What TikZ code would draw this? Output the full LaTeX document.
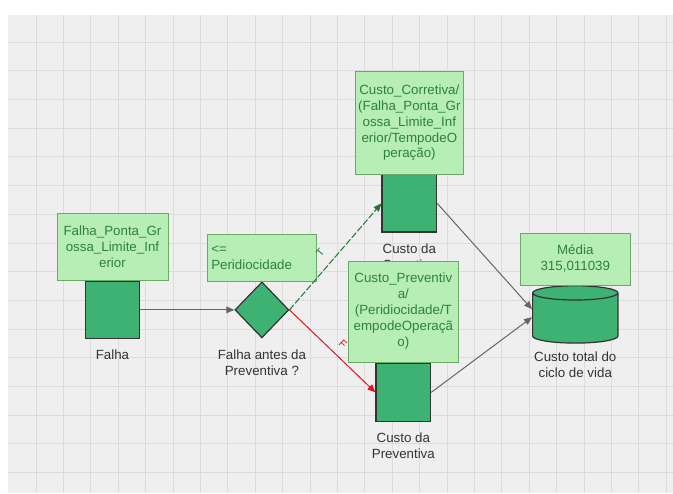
\documentclass[tikz,border=0pt]{standalone}
\usepackage{fontspec}
\setmainfont{Liberation Sans}
\usetikzlibrary{positioning,shapes.geometric,arrows.meta}

\definecolor{gridbg}{RGB}{239,239,239}
\definecolor{gridline}{RGB}{220,220,220}
\definecolor{boxfill}{RGB}{182,238,182}
\definecolor{boxdraw}{RGB}{105,170,105}
\definecolor{boxtext}{RGB}{45,130,60}
\definecolor{nodefill}{RGB}{62,178,115}
\definecolor{truegreen}{RGB}{30,120,50}
\definecolor{falsered}{RGB}{225,20,30}

\begin{document}
\begin{tikzpicture}[
  x=0.75pt, y=-0.75pt,
  node distance = 0pt,
  block/.style={rectangle, draw=black!80, line width=0.9pt, fill=nodefill,
    minimum width = 41pt, minimum height = 43pt},
  decision/.style={diamond, draw=black!80, line width=0.9pt, fill=nodefill,
    inner sep=0pt, minimum width = 40.5pt, minimum height = 42pt},
  result/.style={cylinder, shape border rotate=90, aspect=1.6, draw=black!80,
    line width=0.9pt, fill=nodefill, minimum width = 64pt, minimum height = 43pt},
  value/.style={rectangle, draw=boxdraw, fill=boxfill, text=boxtext,
    align=center, inner sep=2pt},
  caption/.style={text=black!80, align=center, inner sep=1pt},
  line/.style={draw=black!60, line width=0.75pt, -{Triangle[length=6pt,width=5pt]}}
  ]

% grid
\fill [gridbg] (8,15) rectangle (673,493);
\foreach \i in {0,...,23}
  \draw [gridline] ({36+27.4*\i},15) -- ({36+27.4*\i},493);
\foreach \j in {0,...,15}
  \draw [gridline] (8,{42+28.7*\j}) -- (673,{42+28.7*\j});

\node [block] (falha) at (112.5,310) {};
\node [value, above=of falha, minimum width=83pt, minimum height=50pt] (falha_val)
  {Falha\_Ponta\_Gr\\ossa\_Limite\_Inf\\erior};
\node [caption, below=7pt of falha] (falha_txt) {Falha};

\node [decision] (cond) at (262,310) {};
\node [value, above=of cond, text width=76pt, align=left, inner sep=3pt,
  minimum height=35pt] (cond_val) {<=\\Peridiocidade};
\node [caption, below=7pt of cond] (cond_txt) {Falha antes da\\Preventiva ?};

\node [block] (corretiva) at (409.5,203.5) {};
\node [value, above=of corretiva, minimum width=78pt, minimum height=77pt] (corretiva_val)
  {Custo\_Corretiva/\\(Falha\_Ponta\_Gr\\ossa\_Limite\_Inf\\erior/TempodeO\\peração)};
\node [caption, below=7pt of corretiva] (corretiva_txt) {Custo da\\Corretiva};

\node [block, minimum height=44pt] (preventiva) at (403.5,392.5) {};
\node [value, above=of preventiva, minimum width=82.5pt, minimum height=76pt] (preventiva_val)
  {Custo\_Preventiv\\a/\\(Peridiocidade/T\\empodeOperaçã\\o)};
\node [caption, below=7pt of preventiva] (preventiva_txt) {Custo da\\Preventiva};

\node [result] (total) at (575.5,320) {};
\node [value, above=of total, minimum width=83pt, minimum height=39pt] (total_val)
  {Média\\315,011039};
\node [caption, below=5pt of total] (total_txt) {Custo total do\\ciclo de vida};

\path [line] (falha) -- (cond);
\path [line, draw=truegreen, dash pattern=on 5pt off 1.5pt] (cond.east) -- (corretiva.west)
  node [pos=0.45, above=4pt, sloped, font=\footnotesize, text=truegreen] {T};
\path [line, draw=falsered] (cond.east) -- (preventiva.west)
  node [pos=0.52, above=3pt, sloped, font=\footnotesize, text=falsered] {F};
\path [line] (corretiva.east) -- ([yshift=8pt]total.west);
\path [line] (preventiva.east) -- ([yshift=2pt]total.west);

\useasboundingbox (0,0) rectangle (673,493);
\end{tikzpicture}
\end{document}
